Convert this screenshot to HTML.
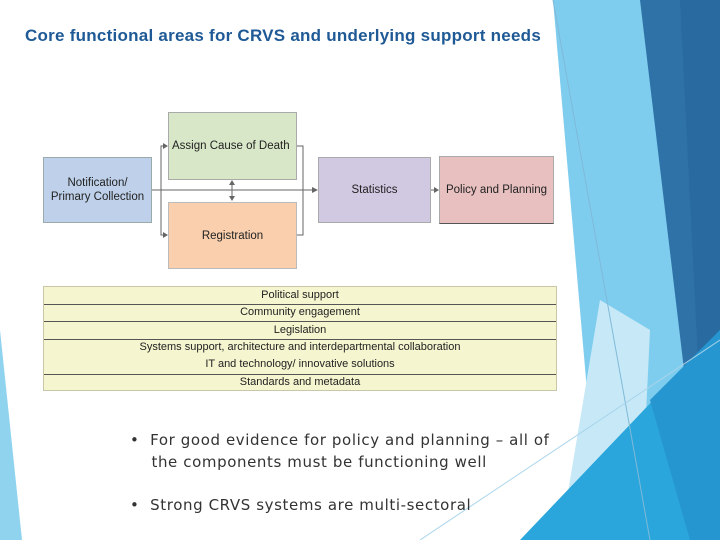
<!DOCTYPE html>
<html><head><meta charset="utf-8"><style>
body{margin:0;width:720px;height:540px;overflow:hidden;background:#fff;font-family:"Liberation Sans",Arial,sans-serif;position:relative}
.t{position:absolute;left:25px;top:26px;font-size:17px;letter-spacing:0.25px;font-weight:bold;color:#1f5a96;white-space:nowrap}
.b{position:absolute;box-sizing:border-box;display:flex;align-items:center;justify-content:center;text-align:center;font-size:11.5px;color:#222;line-height:14px}
.tbl{position:absolute;left:43px;top:286px;width:514px;height:105px;background:#f5f5d0;border:1px solid #c8c8a8;box-sizing:border-box}
.r{position:absolute;left:0;right:0;text-align:center;font-size:11px;color:#222}
.ln{position:absolute;left:0;right:0;height:1px;background:#555}
.bl{position:absolute;left:130px;font-family:"DejaVu Sans",sans-serif;font-size:15px;letter-spacing:0.6px;color:#333;line-height:22px;white-space:nowrap}
</style></head><body>
<svg width="720" height="540" style="position:absolute;left:0;top:0">
<polygon points="0,330 0,540 22,540" fill="#8fd3ef"/>
<polygon points="553,0 645,0 705,420 690,540 600,540" fill="#7fcdee"/>
<polygon points="600,300 650,330 640,540 560,540" fill="#c7e9f7"/>
<polygon points="640,0 720,0 720,540 700,540 690,420" fill="#2f72a8"/>
<polygon points="680,0 720,0 720,360 700,400" fill="#296aa0"/>
<polygon points="520,540 720,330 720,540" fill="#2aa6dc"/>
<polygon points="650,400 720,330 720,540 690,540" fill="#2596cf"/>
<line x1="553" y1="0" x2="650" y2="540" stroke="#7fb9d8" stroke-width="1"/>
<line x1="420" y1="540" x2="720" y2="340" stroke="#a8d4ea" stroke-width="1"/>
<g stroke="#666" stroke-width="1" fill="none">
<line x1="152" y1="190" x2="314" y2="190"/>
<polyline points="165,146 161,146 161,235 165,235"/>
<polyline points="297,146 303,146 303,235 297,235"/>
<line x1="232" y1="184" x2="232" y2="198"/>
<line x1="431" y1="190" x2="436" y2="190"/>
</g>
<g fill="#666">
<polygon points="318,190 312,187 312,193"/>
<polygon points="168,146 163,143 163,149"/>
<polygon points="168,235 163,232 163,238"/>
<polygon points="232,180 229,185 235,185"/>
<polygon points="232,201 229,196 235,196"/>
<polygon points="439,190 434,187 434,193"/>
</g>
</svg>
<div class="t">Core functional areas for CRVS and underlying support needs</div>
<div class="b" style="left:43px;top:157px;width:109px;height:66px;background:#bfd1ea;border:1px solid #9aa">Notification/<br>Primary Collection</div>
<div class="b" style="left:168px;top:112px;width:129px;height:68px;background:#d9e7c9;border:1px solid #aaa;justify-content:flex-start;align-items:flex-start;padding:26px 0 0 3px">Assign Cause of Death</div>
<div class="b" style="left:168px;top:202px;width:129px;height:67px;background:#f9cfad;border:1px solid #bbb">Registration</div>
<div class="b" style="left:318px;top:157px;width:113px;height:66px;background:#d1c8e1;border:1px solid #aaa">Statistics</div>
<div class="b" style="left:439px;top:156px;width:115px;height:68px;background:#e8c0c0;border:1px solid #aaa;border-bottom:1px solid #555">Policy and Planning</div>
<div class="tbl">
<div class="r" style="top:2px">Political support</div>
<div class="ln" style="top:17px"></div>
<div class="r" style="top:19px">Community engagement</div>
<div class="ln" style="top:34px"></div>
<div class="r" style="top:37px">Legislation</div>
<div class="ln" style="top:52px"></div>
<div class="r" style="top:54px">Systems support, architecture and interdepartmental collaboration</div>
<div class="r" style="top:71px">IT and technology/ innovative solutions</div>
<div class="ln" style="top:87px"></div>
<div class="r" style="top:89px">Standards and metadata</div>
</div>
<div class="bl" style="top:429px">•&nbsp;&nbsp;For good evidence for policy and planning – all of<br>&nbsp;&nbsp;&nbsp;&nbsp;the components must be functioning well</div>
<div class="bl" style="top:494px">•&nbsp;&nbsp;Strong CRVS systems are multi-sectoral</div>
</body></html>
